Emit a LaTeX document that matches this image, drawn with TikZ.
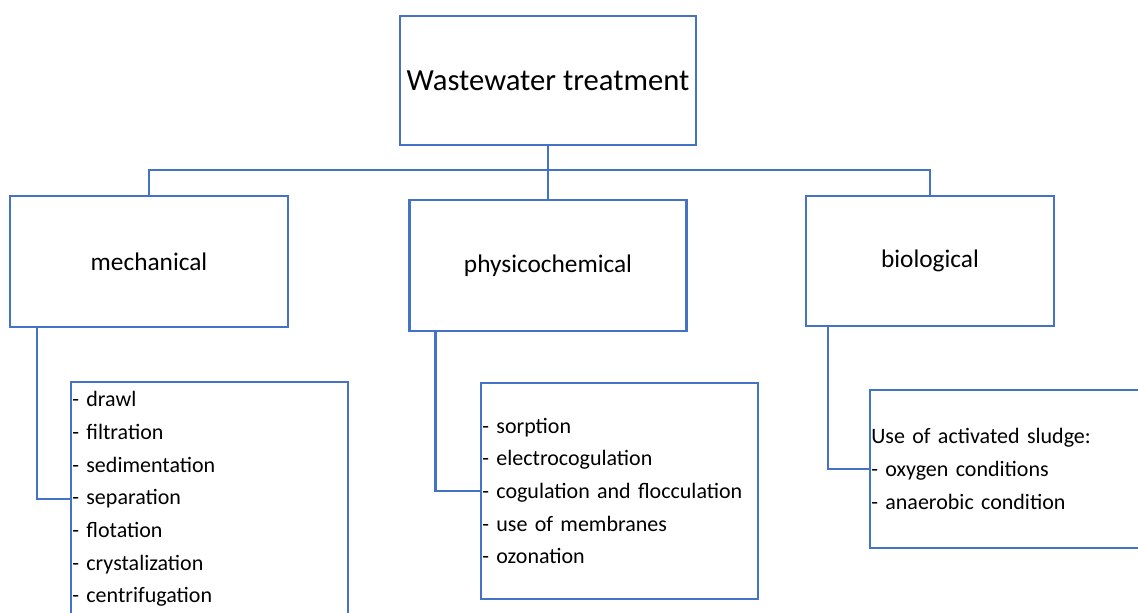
\documentclass[tikz,border=0pt]{standalone}
\usepackage{fontspec}
\setmainfont{Carlito}
\usetikzlibrary{positioning,calc}
\definecolor{boxblue}{HTML}{4472C4}

\begin{document}
\begin{tikzpicture}[
    x=0.75pt, y=-0.75pt,
    box/.style={draw=boxblue, line width=1.8pt, inner sep=0pt, align=center, font=\fontsize{19}{23}\selectfont},
    listbox/.style={draw=boxblue, line width=1.8pt, inner xsep=1pt, inner ysep=0pt, align=left, font=\fontsize{16.5}{24.5}\selectfont},
    conn/.style={draw=boxblue, line width=1.8pt}
]
    \useasboundingbox (0,0) rectangle (1138,612);
    \clip (0,0) rectangle (1138,612);

    \node[box, minimum width=222pt, minimum height=96.75pt, font=\fontsize{23}{27}\selectfont] (top) at (548,80.5) {Wastewater treatment};
    \node[box, minimum width=208.5pt, minimum height=98.25pt] (mech) at (149,261.5) {mechanical};
    \node[box, minimum width=207.75pt, minimum height=98.25pt] (phys) at (548,265.5) {physicochemical};
    \node[box, minimum width=186pt, minimum height=97.5pt] (bio) at (930,261) {biological};

    \node[listbox, text width=205.75pt, minimum height=175.5pt] (mlist) at (209.5,499)
        {- drawl\\- filtration\\- sedimentation\\- separation\\- flotation\\- crystalization\\- centrifugation};
    \node[listbox, text width=205.75pt, minimum height=162pt] (plist) at (619.5,491)
        {- sorption\\- electrocogulation\\- cogulation and flocculation\\- use of membranes\\- ozonation};
    \node[listbox, text width=215.5pt, minimum height=118.5pt] (blist) at (1015,469)
        {Use of activated sludge:\\- oxygen conditions\\- anaerobic condition};

    \draw[conn] (top.south) -- ++(0,24) coordinate (hub);
    \draw[conn] (hub) -| (mech.north);
    \draw[conn] (hub) -| (bio.north);
    \draw[conn] (hub) -- (phys.north);

    \draw[conn] ($(mech.south west)+(28,0)$) |- (mlist.west);
    \draw[conn] ($(phys.south west)+(27,0)$) |- (plist.west);
    \draw[conn] ($(bio.south west)+(23,0)$) |- (blist.west);
\end{tikzpicture}
\end{document}
